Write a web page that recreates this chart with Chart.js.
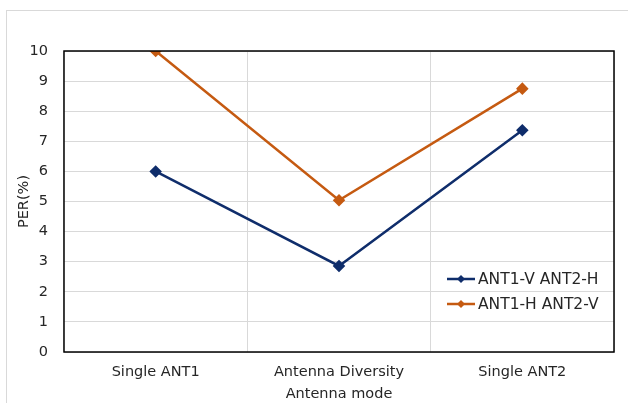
<!DOCTYPE html>
<html>
<head>
<meta charset="utf-8">
<script src="https://cdn.jsdelivr.net/npm/chart.js@4"></script>
<style>
  html, body { margin: 0; padding: 0; background: #fff; }
  #wrap { position: relative; width: 628px; height: 403px; overflow: hidden; }
  #frame { position: absolute; left: 6px; top: 10px; width: 640px; height: 420px; border: 1px solid #d9d9d9; box-sizing: border-box; }
  #perChart { position: absolute; left: 0; top: 0; }
</style>
</head>
<body>
<div id="wrap">
  <div id="frame"></div>
  <canvas id="perChart" width="628" height="403"></canvas>
</div>
<script>
// data
const categories = ['Single ANT1', 'Antenna Diversity', 'Single ANT2'];
const seriesNames = ['ANT1-V ANT2-H', 'ANT1-H ANT2-V'];
const vhValues = [6.0, 2.86, 7.37];
const hvValues = [10.0, 5.04, 8.75];
const yTicks = [0, 1, 2, 3, 4, 5, 6, 7, 8, 9, 10];

const blue = '#0f2d6b';
const orange = '#c55a11';
const textColor = '#262626';
const gridColor = '#d9d9d9';
const fontFamily = '"DejaVu Sans", Verdana, sans-serif';
const fontSize = 14.5;

// black box round the plot area
const plotBorder = {
  id: 'plotBorder',
  afterDraw(chart) {
    const a = chart.chartArea, ctx = chart.ctx;
    ctx.save();
    ctx.strokeStyle = '#000';
    ctx.lineWidth = 1.5;
    ctx.strokeRect(a.left, a.top, a.right - a.left, a.bottom - a.top);
    ctx.restore();
  }
};

// legend inside the plot, line + diamond like Excel
const lineLegend = {
  id: 'lineLegend',
  afterDraw(chart) {
    const ctx = chart.ctx;
    const a = chart.chartArea;
    const x0 = a.right - 167, y0 = a.bottom - 73;
    ctx.save();
    ctx.font = '15.5px ' + fontFamily;
    ctx.textBaseline = 'middle';
    chart.data.datasets.forEach((ds, i) => {
      const y = y0 + i * 25;
      ctx.strokeStyle = ds.borderColor;
      ctx.lineWidth = 2.5;
      ctx.beginPath();
      ctx.moveTo(x0, y);
      ctx.lineTo(x0 + 28, y);
      ctx.stroke();
      ctx.fillStyle = ds.borderColor;
      ctx.beginPath();
      ctx.moveTo(x0 + 14, y - 4);
      ctx.lineTo(x0 + 18, y);
      ctx.lineTo(x0 + 14, y + 4);
      ctx.lineTo(x0 + 10, y);
      ctx.closePath();
      ctx.fill();
      ctx.fillStyle = textColor;
      ctx.fillText(ds.label, x0 + 31, y + 1);
    });
    ctx.restore();
  }
};

const data = {
  labels: categories,
  datasets: [
    {
      label: seriesNames[0],
      data: vhValues,
      borderColor: blue,
      backgroundColor: blue,
      borderWidth: 2.5,
      pointStyle: 'rectRot',
      pointRadius: 4.5,
      tension: 0
    },
    {
      label: seriesNames[1],
      data: hvValues,
      borderColor: orange,
      backgroundColor: orange,
      borderWidth: 2.5,
      pointStyle: 'rectRot',
      pointRadius: 4.5,
      tension: 0
    }
  ]
};

const config = {
  type: 'line',
  data,
  options: {
    responsive: false,
    animation: false,
    layout: { padding: { top: 51, right: 14, left: 0, bottom: 0 } },
    plugins: {
      legend: { display: false },
      tooltip: { enabled: false }
    },
    scales: {
      x: {
        type: 'category',
        offset: true,
        afterFit(axis) { axis.height = 51; },
        grid: { offset: true, color: gridColor, lineWidth: 1, drawTicks: false },
        border: { display: false },
        ticks: { color: textColor, font: { family: fontFamily, size: fontSize }, padding: 12, maxRotation: 0 },
        title: { display: true, text: 'Antenna mode', color: textColor, font: { family: fontFamily, size: fontSize }, padding: { top: 1, bottom: 0 } }
      },
      y: {
        min: 0,
        max: 10,
        afterBuildTicks(axis) { axis.ticks = yTicks.map(v => ({ value: v })); },
        afterFit(axis) { axis.width = 64; },
        grid: { color: gridColor, lineWidth: 1, drawTicks: false },
        border: { display: false },
        ticks: { color: textColor, font: { family: fontFamily, size: fontSize }, padding: 16 },
        title: { display: true, text: 'PER(%)', color: textColor, font: { family: fontFamily, size: fontSize }, padding: { top: 16, bottom: 0 } }
      }
    }
  },
  plugins: [plotBorder, lineLegend]
};

new Chart(document.getElementById('perChart'), config);
</script>
</body>
</html>
